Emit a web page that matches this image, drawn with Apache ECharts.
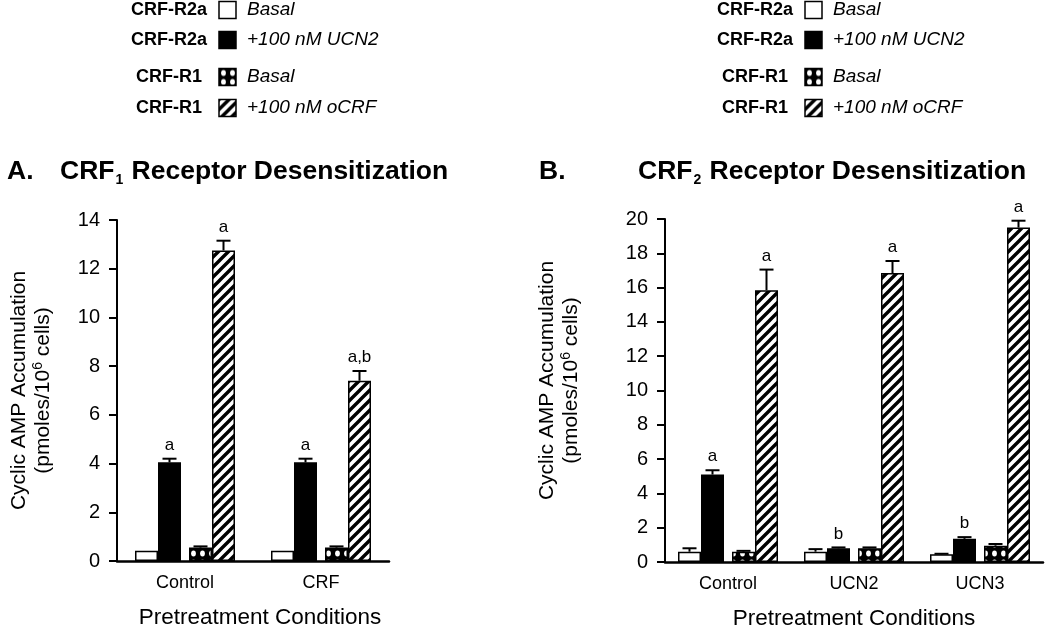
<!DOCTYPE html>
<html>
<head>
<meta charset="utf-8">
<script src="https://cdn.jsdelivr.net/npm/echarts@6/dist/echarts.min.js"></script>
<style>html,body{margin:0;padding:0;background:#fff}#c{width:1050px;height:627px}</style>
</head>
<body>
<div id="c"></div>
<script>
// ---------- DATA ----------
const catsA = ['Control', 'CRF'];
const catsB = ['Control', 'UCN2', 'UCN3'];

// Panel A: CRF1 receptor desensitization
const A_r2aBasal = [0.42, 0.42];
const A_r2aBasalErr = [0, 0];
const A_r2aUcn2 = [4.05, 4.05];
const A_r2aUcn2Err = [0.15, 0.15];
const A_r1Basal = [0.55, 0.55];
const A_r1BasalErr = [0.05, 0.05];
const A_r1Ocrf = [12.75, 7.4];
const A_r1OcrfErr = [0.4, 0.4];
const A_sigUcn2 = ['a', 'a'];
const A_sigOcrf = ['a', 'a,b'];

// Panel B: CRF2 receptor desensitization
const B_r2aBasal = [0.6, 0.6, 0.45];
const B_r2aBasalErr = [0.2, 0.15, 0.03];
const B_r2aUcn2 = [5.1, 0.8, 1.35];
const B_r2aUcn2Err = [0.25, 0.05, 0.1];
const B_r1Basal = [0.6, 0.8, 0.95];
const B_r1BasalErr = [0.05, 0.05, 0.1];
const B_r1Ocrf = [15.85, 16.85, 19.5];
const B_r1OcrfErr = [1.2, 0.7, 0.4];
const B_sigUcn2 = ['a', 'b', 'b'];
const B_sigOcrf = ['a', 'a', 'a'];

const yTicksA = { max: 14, interval: 2 };
const yTicksB = { max: 20, interval: 2 };

const legendRows = [
  ['CRF-R2a', 'Basal'],
  ['CRF-R2a', '+100 nM UCN2'],
  ['CRF-R1', 'Basal'],
  ['CRF-R1', '+100 nM oCRF']
];

// ---------- STYLE ----------
const FONT = "'Liberation Sans', Arial, Helvetica, sans-serif";

function hatchCanvas() {
  const s = 10, c = document.createElement('canvas');
  c.width = c.height = s;
  const g = c.getContext('2d');
  g.fillStyle = '#fff'; g.fillRect(0, 0, s, s);
  g.strokeStyle = '#000'; g.lineWidth = 3.4; g.lineCap = 'square';
  g.beginPath();
  g.moveTo(-2, s + 2); g.lineTo(s + 2, -2);
  g.moveTo(-2, 2); g.lineTo(2, -2);
  g.moveTo(s - 2, s + 2); g.lineTo(s + 2, s - 2);
  g.stroke();
  return c;
}
function crossCanvas() {
  const s = 9, c = document.createElement('canvas');
  c.width = c.height = s;
  const g = c.getContext('2d');
  g.fillStyle = '#000'; g.fillRect(0, 0, s, s);
  g.fillStyle = '#fff';
  g.beginPath(); g.ellipse(4.5, 4.5, 2.4, 3.0, 0, 0, Math.PI * 2); g.fill();
  return c;
}
const hatchPat = { image: hatchCanvas(), repeat: 'repeat' };
const crossPat = { image: crossCanvas(), repeat: 'repeat' };

const barStyles = [
  { color: '#fff', borderColor: '#000', borderWidth: 1.5 },
  { color: '#000', borderColor: '#000', borderWidth: 1.5 },
  { color: crossPat, borderColor: '#000', borderWidth: 1.5 },
  { color: hatchPat, borderColor: '#000', borderWidth: 1.5 }
];
const legendFills = ['#fff', '#000', crossPat, hatchPat];

// bar widths: 4 bars + a spacer between 2nd and 3rd
const BW = 23, SP = 8;
const widths = [BW, BW, SP, BW, BW];
const total = widths.reduce((a, b) => a + b, 0);
const centers = [];
{ let x = -total / 2; for (const w of widths) { centers.push(x + w / 2); x += w; } }
const barOffsets = [centers[0], centers[1], centers[3], centers[4]];

function panelSeries(gi, vals, errs, sigs) {
  const out = [];
  const order = [0, 1, 'sp', 2, 3];
  order.forEach((k) => {
    if (k === 'sp') {
      out.push({ type: 'bar', xAxisIndex: gi, yAxisIndex: gi, barWidth: SP, barGap: '0%',
        data: vals[0].map(() => '-'), silent: true });
    } else {
      out.push({ type: 'bar', xAxisIndex: gi, yAxisIndex: gi, barWidth: BW, barGap: '0%',
        data: vals[k], itemStyle: barStyles[k], silent: true, z: 2 });
    }
  });
  // error bars + significance letters
  [0, 1, 2, 3].forEach((k) => {
    const off = barOffsets[k];
    const sig = sigs[k];
    out.push({
      type: 'custom', xAxisIndex: gi, yAxisIndex: gi, z: 5, silent: true,
      data: vals[k].map((v, i) => [i, v, errs[k][i]]),
      encode: { x: 0, y: 1 },
      renderItem: function (params, api) {
        const cat = api.value(0), v = api.value(1), e = api.value(2);
        const b = api.coord([cat, v]);
        const t = api.coord([cat, v + e]);
        const x = b[0] + off;
        const ch = [];
        if (e > 0) {
          ch.push({ type: 'line', shape: { x1: x, y1: b[1], x2: x, y2: t[1] }, style: { stroke: '#000', lineWidth: 2 } });
          ch.push({ type: 'line', shape: { x1: x - 7, y1: t[1], x2: x + 7, y2: t[1] }, style: { stroke: '#000', lineWidth: 2 } });
        }
        const s = sig ? sig[params.dataIndex] : '';
        if (s) {
          ch.push({ type: 'text', x: x, y: t[1] - 5,
            style: { text: s, fill: '#000', font: '17px ' + FONT, textAlign: 'center', textVerticalAlign: 'bottom' } });
        }
        return { type: 'group', children: ch };
      }
    });
  });
  return out;
}

const seriesA = panelSeries(0,
  [A_r2aBasal, A_r2aUcn2, A_r1Basal, A_r1Ocrf],
  [A_r2aBasalErr, A_r2aUcn2Err, A_r1BasalErr, A_r1OcrfErr],
  [null, A_sigUcn2, null, A_sigOcrf]);
const seriesB = panelSeries(1,
  [B_r2aBasal, B_r2aUcn2, B_r1Basal, B_r1Ocrf],
  [B_r2aBasalErr, B_r2aUcn2Err, B_r1BasalErr, B_r1OcrfErr],
  [null, B_sigUcn2, null, B_sigOcrf]);

const yNameRich = {
  l: { fontSize: 21, fontFamily: FONT, color: '#000', lineHeight: 24 },
  sup: { fontSize: 14, fontFamily: FONT, color: '#000', verticalAlign: 'top', lineHeight: 24 }
};
const yName = '{l|Cyclic AMP Accumulation}\n{l|(pmoles/10}{sup|6}{l| cells)}';

function yAxisCfg(gi, ticks, gap, pad) {
  return {
    type: 'value', gridIndex: gi, min: 0, max: ticks.max, interval: ticks.interval,
    axisLine: { show: true, lineStyle: { color: '#000', width: 2 } },
    axisTick: { show: true, length: 8, lineStyle: { color: '#000', width: 2 } },
    axisLabel: { color: '#000', fontSize: 20, fontFamily: FONT, margin: 17 },
    splitLine: { show: false },
    name: yName, nameLocation: 'middle', nameGap: gap, nameRotate: 90,
    nameTextStyle: { rich: yNameRich, padding: pad }
  };
}
function xAxisCfg(gi, cats, pad) {
  return {
    type: 'category', gridIndex: gi, data: cats,
    axisLine: { show: true, lineStyle: { color: '#000', width: 2.5 } },
    axisTick: { show: false },
    axisLabel: { color: '#000', fontSize: 18, fontFamily: FONT, margin: 13 },
    name: 'Pretreatment Conditions', nameLocation: 'middle', nameGap: 45,
    nameTextStyle: { color: '#000', fontSize: 22.5, fontFamily: FONT, padding: pad }
  };
}

const titleRich = {
  m: { fontSize: 26.5, fontWeight: 'bold', fontFamily: FONT, color: '#000', lineHeight: 30 },
  sub: { fontSize: 14, fontWeight: 'bold', fontFamily: FONT, color: '#000', verticalAlign: 'bottom', lineHeight: 28, padding: [0, 1, 0, 1] }
};

// legend graphics
const graphics = [];
[[207, 202, 219, 247], [793, 788, 805, 833]].forEach(([rx2a, rx1, bx, tx]) => {
  const rowsY = [10, 40, 77, 108];
  legendRows.forEach((r, i) => {
    const y = rowsY[i];
    graphics.push({ type: 'text', x: i < 2 ? rx2a : rx1, y: y,
      style: { text: r[0], fill: '#000', font: 'bold 18px ' + FONT, textAlign: 'right', textVerticalAlign: 'middle' } });
    graphics.push({ type: 'rect', x: bx, y: y - 8.5, shape: { width: 17, height: 17 },
      style: { fill: legendFills[i], stroke: '#000', lineWidth: 1.5 } });
    graphics.push({ type: 'text', x: tx, y: y,
      style: { text: r[1], fill: '#000', font: 'italic 19px ' + FONT, textAlign: 'left', textVerticalAlign: 'middle' } });
  });
});

const chart = echarts.init(document.getElementById('c'), null, { renderer: 'canvas' });
chart.setOption({
  backgroundColor: '#fff',
  animation: false,
  title: [
    { text: '{m|A.}', left: 2, top: 152, textStyle: { rich: titleRich } },
    { text: '{m|CRF}{sub|1}{m| Receptor Desensitization}', left: 55, top: 152, textStyle: { rich: titleRich } },
    { text: '{m|B.}', left: 534, top: 152, textStyle: { rich: titleRich } },
    { text: '{m|CRF}{sub|2}{m| Receptor Desensitization}', left: 633, top: 152, textStyle: { rich: titleRich } }
  ],
  grid: [
    { left: 117, top: 220, width: 272, height: 341, containLabel: false, outerBoundsMode: 'none' },
    { left: 665, top: 219, width: 378, height: 343, containLabel: false, outerBoundsMode: 'none' }
  ],
  xAxis: [xAxisCfg(0, catsA, [0, 0, 0, 14]), xAxisCfg(1, catsB, [0, 0, 0, 0])],
  yAxis: [yAxisCfg(0, yTicksA, 62, [0, 0, 0, 0]), yAxisCfg(1, yTicksB, 82, [0, 0, 0, 20])],
  series: seriesA.concat(seriesB),
  graphic: graphics
});
</script>
</body>
</html>
